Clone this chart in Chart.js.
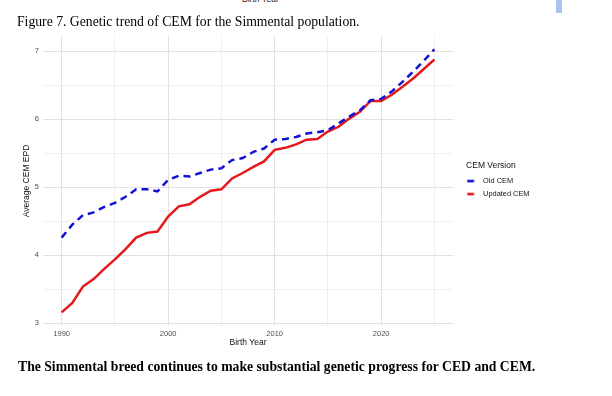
<!DOCTYPE html>
<html>
<head>
<meta charset="utf-8">
<script src="https://cdn.jsdelivr.net/npm/chart.js@4.4.1/dist/chart.umd.min.js"></script>
<style>
  body { margin: 0; background: #fff; }
  #page { position: relative; width: 612px; height: 396px; overflow: hidden; background: #fff; }
  #chart { position: absolute; left: 0; top: 0; }
  .serif { position: absolute; font-family: "Liberation Serif", "Times New Roman", serif; font-size: 13.7px; line-height: 16px; color: #000; white-space: nowrap; }
  #cut { position: absolute; left: 242px; top: -6px; font-family: "Liberation Sans", Arial, sans-serif; font-size: 8.5px; line-height: 10px; color: #222; }
  #bar { position: absolute; left: 556px; top: 0; width: 6px; height: 13px; background: #a9c3f0; }
</style>
</head>
<body>
<div id="page">
  <div id="cut">Birth Year</div>
  <div id="bar"></div>
  <canvas id="chart" width="612" height="396"></canvas>
  <div class="serif" style="left:17px;top:14px;">Figure 7. Genetic trend of CEM for the Simmental population.</div>
  <div class="serif" style="left:18px;top:359px;font-weight:bold;">The Simmental breed continues to make substantial genetic progress for CED and CEM.</div>
</div>
<script>
// Năm sinh và EPD trung bình
const years = [1990, 1991, 1992, 1993, 1994, 1995, 1996, 1997, 1998, 1999,
               2000, 2001, 2002, 2003, 2004, 2005, 2006, 2007, 2008, 2009,
               2010, 2011, 2012, 2013, 2014, 2015, 2016, 2017, 2018, 2019,
               2020, 2021, 2022, 2023, 2024, 2025];
const oldCem = [4.26, 4.45, 4.59, 4.63, 4.71, 4.77, 4.86, 4.97, 4.97, 4.94,
                5.11, 5.17, 5.16, 5.21, 5.26, 5.28, 5.40, 5.43, 5.52, 5.57,
                5.70, 5.71, 5.74, 5.79, 5.81, 5.84, 5.94, 6.04, 6.13, 6.28,
                6.30, 6.41, 6.55, 6.70, 6.86, 7.03];
const updatedCem = [3.16, 3.30, 3.54, 3.65, 3.80, 3.94, 4.09, 4.26, 4.33, 4.35,
                    4.57, 4.72, 4.75, 4.86, 4.95, 4.97, 5.13, 5.21, 5.30, 5.38,
                    5.55, 5.58, 5.63, 5.70, 5.71, 5.82, 5.89, 6.01, 6.11, 6.27,
                    6.27, 6.36, 6.48, 6.60, 6.74, 6.88];
const seriesLabels = ['Old CEM', 'Updated CEM'];

// Lưới trục
const xGrid = [1990, 1995, 2000, 2005, 2010, 2015, 2020, 2025];
const xTickLabels = [1990, 2000, 2010, 2020];
const yGrid = [3, 3.5, 4, 4.5, 5, 5.5, 6, 6.5, 7];
const yTickLabels = [3, 4, 5, 6, 7];

const BLUE = '#1212d2';
const RED = '#e4191c';

// ký hiệu chú giải: một gạch ngắn
function swatch(color) {
    const c = document.createElement('canvas');
    c.width = 18; c.height = 4;
    const g = c.getContext('2d');
    g.fillStyle = color;
    g.fillRect(0.5, 0.7, 7, 2.6);
    return c;
}

const gridColor = (list, major, minor) => ctx => (ctx.tick && list.includes(ctx.tick.value)) ? major : minor;

// dời chú giải sang phải / lên trên một chút
const legendNudge = {
    id: 'legendNudge',
    afterLayout(chart) {
        const lg = chart.legend;
        lg.left += 13; lg.right += 13;
        lg.top -= 9.5; lg.bottom -= 9.5;
    }
};

new Chart(document.getElementById('chart'), {
    type: 'line',
    data: {
        labels: years,
        datasets: [{
            label: seriesLabels[0],
            data: oldCem,
            borderColor: BLUE,
            backgroundColor: BLUE,
            borderWidth: 2.5,
            borderDash: [7, 5],
            pointRadius: 0,
            pointStyle: swatch(BLUE),
            tension: 0
        }, {
            label: seriesLabels[1],
            data: updatedCem,
            borderColor: RED,
            backgroundColor: RED,
            borderWidth: 2.5,
            pointRadius: 0,
            pointStyle: swatch(RED),
            tension: 0
        }]
    },
    options: {
        responsive: false,
        animation: false,
        layout: { padding: { top: 36, left: 22, right: 85.5, bottom: 48 } },
        scales: {
            x: {
                type: 'linear',
                min: 1988.25,
                max: 2026.75,
                afterBuildTicks: s => { s.ticks = xGrid.map(v => ({ value: v })); },
                afterFit: s => { s.height = 22; },
                ticks: {
                    autoSkip: false,
                    maxRotation: 0,
                    padding: 3,
                    color: '#4d4d4d',
                    font: { family: 'Liberation Sans', size: 7.5 },
                    callback: v => xTickLabels.includes(v) ? String(v) : ''
                },
                grid: {
                    drawTicks: false,
                    color: gridColor(xTickLabels, '#e1e1e1', '#ececec'),
                    lineWidth: gridColor(xTickLabels, 1, 0.8)
                },
                border: { display: false },
                title: {
                    display: true,
                    text: 'Birth Year',
                    color: '#111',
                    padding: 0,
                    font: { family: 'Liberation Sans', size: 8.5 }
                }
            },
            y: {
                min: 2.96,
                max: 7.225,
                afterBuildTicks: s => { s.ticks = yGrid.map(v => ({ value: v })); },
                afterFit: s => { s.width = 21; },
                ticks: {
                    padding: 4,
                    color: '#4d4d4d',
                    font: { family: 'Liberation Sans', size: 7.5 },
                    callback: v => yTickLabels.includes(v) ? String(v) : ''
                },
                grid: {
                    drawTicks: false,
                    color: gridColor(yTickLabels, '#e1e1e1', '#ececec'),
                    lineWidth: gridColor(yTickLabels, 1, 0.8)
                },
                border: { display: false },
                title: {
                    display: true,
                    text: 'Average CEM EPD',
                    color: '#111',
                    padding: 0,
                    font: { family: 'Liberation Sans', size: 8.5 }
                }
            }
        },
        plugins: {
            legend: {
                position: 'right',
                align: 'center',
                title: {
                    display: true,
                    text: 'CEM Version',
                    position: 'start',
                    color: '#111',
                    padding: 0,
                    font: { family: 'Liberation Sans', size: 8.5 }
                },
                labels: {
                    usePointStyle: true,
                    pointStyleWidth: 7.7,
                    padding: 5.6,
                    color: '#111',
                    font: { family: 'Liberation Sans', size: 7.4 }
                }
            },
            tooltip: { enabled: false }
        }
    },
    plugins: [legendNudge]
});
</script>
</body>
</html>
